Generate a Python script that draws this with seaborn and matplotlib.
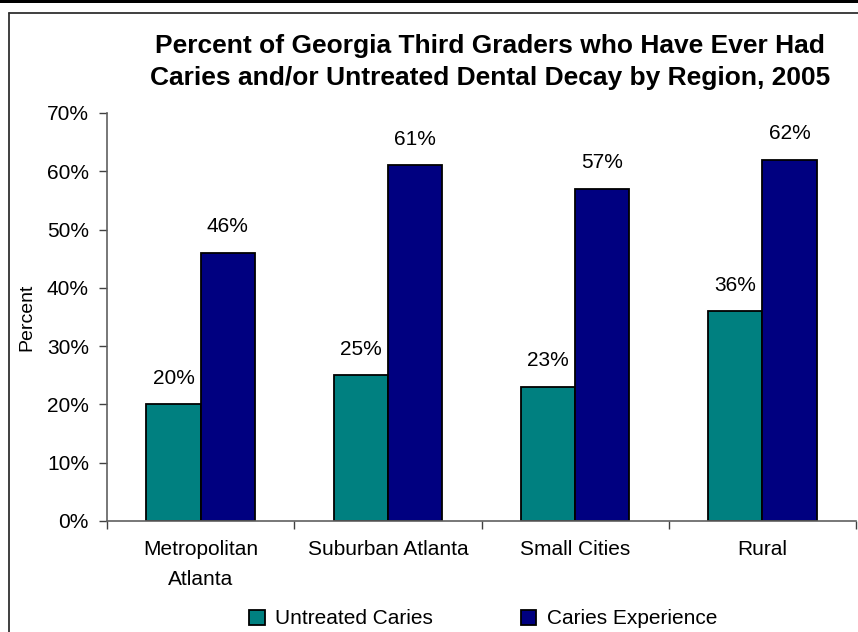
import matplotlib
matplotlib.use("Agg")
import matplotlib.pyplot as plt
from matplotlib.lines import Line2D
from matplotlib.patches import Rectangle
from matplotlib.ticker import FuncFormatter
import seaborn as sns
import pandas as pd

regions = ["Metropolitan\nAtlanta", "Suburban Atlanta", "Small Cities", "Rural"]
series_names = ["Untreated Caries", "Caries Experience"]
untreated = [20, 25, 23, 36]
experience = [46, 61, 57, 62]
y_ticks = [0, 10, 20, 30, 40, 50, 60, 70]
colors = ["#008080", "#000080"]

df = pd.DataFrame({
    "Region": regions * 2,
    "Series": [series_names[0]] * len(regions) + [series_names[1]] * len(regions),
    "Value": untreated + experience,
})

sns.set_theme(style="white")
plt.rcParams["font.family"] = ["Liberation Sans", "DejaVu Sans"]
plt.rcParams.update({"text.color": "black", "axes.labelcolor": "black",
                     "xtick.labelcolor": "black", "ytick.labelcolor": "black"})

W, H = 858, 632
fig = plt.figure(figsize=(W / 100, H / 100), dpi=100)
ax = fig.add_axes([107 / W, 1 - 521 / H, (856 - 107) / W, (521 - 113) / H])

sns.barplot(data=df, x="Region", y="Value", hue="Series", order=regions,
            hue_order=series_names, palette=colors, width=0.58,
            edgecolor="black", linewidth=1.3, saturation=1, ax=ax, legend=False)

# value labels above each bar
for container in ax.containers:
    ax.bar_label(container, labels=[f"{v:.0f}%" for v in container.datavalues],
                 padding=12, fontsize=15, color="black")

ax.set_ylim(0, 70)
ax.set_xlim(-0.5, len(regions) - 0.5)
ax.set_yticks(y_ticks)
ax.yaxis.set_major_formatter(FuncFormatter(lambda v, p: f"{v:.0f}%"))
ax.tick_params(axis="y", which="major", direction="out", length=6, width=1,
               color="#404040", labelsize=15, pad=7, left=True)

# category labels at centres, tick marks at category boundaries
ax.set_xticks(range(len(regions)))
ax.set_xticklabels(regions, fontsize=15, linespacing=1.7)
ax.set_xticks([i - 0.5 for i in range(len(regions) + 1)], minor=True)
ax.tick_params(axis="x", which="major", length=0, pad=14)
ax.tick_params(axis="x", which="minor", direction="out", length=6, width=1,
               color="#404040", bottom=True)

ax.set_xlabel("")
ax.set_ylabel("Percent", fontsize=14, labelpad=8)
for side in ["top", "right"]:
    ax.spines[side].set_visible(False)
for side in ["left", "bottom"]:
    ax.spines[side].set_color("#606060")
    ax.spines[side].set_linewidth(1.2)

fig.text(490 / W, 1 - 62 / H,
         "Percent of Georgia Third Graders who Have Ever Had\n"
         "Caries and/or Untreated Dental Decay by Region, 2005",
         ha="center", va="center", fontsize=19, fontweight="bold",
         linespacing=1.38, color="black")

handles = [Rectangle((0, 0), 1, 1, facecolor=c, edgecolor="black", linewidth=1.3)
           for c in colors]
fig.legend(handles, series_names, loc="center", ncol=2,
           bbox_to_anchor=(483 / W, 1 - 619 / H), frameon=False, fontsize=15,
           handlelength=0.75, handleheight=0.75, handletextpad=0.5,
           columnspacing=4.2)

# outer frame of the chart area
fig.add_artist(Rectangle((0, 1 - 3 / H), 1, 3 / H, transform=fig.transFigure,
                         facecolor="black", edgecolor="none"))
fig.add_artist(Line2D([8.5 / W, 1], [1 - 12.5 / H, 1 - 12.5 / H],
                      transform=fig.transFigure, color="#303030", linewidth=1.3))
fig.add_artist(Line2D([8.5 / W, 8.5 / W], [0, 1 - 12.5 / H],
                      transform=fig.transFigure, color="#303030", linewidth=1.3))

fig.savefig("out.png", dpi=100, facecolor="white")
